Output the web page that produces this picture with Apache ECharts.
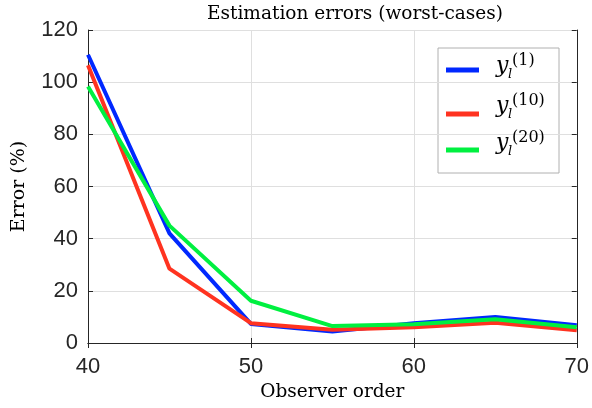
<!DOCTYPE html>
<html><head><meta charset="utf-8">
<script src="https://cdn.jsdelivr.net/npm/echarts@6/dist/echarts.min.js"></script>
<style>html,body{margin:0;padding:0;background:#fff}#c{width:592px;height:408px}</style>
</head><body><div id="c"></div>
<script>
const orders = [40, 45, 50, 55, 60, 65, 70];
const y1 = [110.5, 42, 7.3, 4.4, 7.6, 10.0, 6.8];
const y10 = [106.5, 28.5, 7.6, 5.1, 6.0, 7.8, 4.9];
const y20 = [98.3, 45, 16.2, 6.5, 7.2, 9.1, 6.0];
const seriesNames = ['y1', 'y10', 'y20'];
const supers = ['(1)', '(10)', '(20)'];
const colors = ['#0028ff', '#ff3320', '#00f040'];
const yTicks = [0, 20, 40, 60, 80, 100, 120];
const xTicks = [40, 50, 60, 70];

const chart = echarts.init(document.getElementById('c'), null, {renderer: 'canvas'});
const serifF = '"DejaVu Serif", "Liberation Serif", serif';
const sansF = '"Liberation Sans", Arial, sans-serif';
const axisCol = '#262626';

function legendFor(i, top) {
  return {
    data: [seriesNames[i]], left: 446, top: top, orient: 'vertical',
    itemWidth: 33, itemHeight: 5, icon: 'rect', formatter: () => '',
    textStyle: {fontSize: 1}, padding: 0, itemGap: 0, selectedMode: false
  };
}
function mathLabel(i, dy) {
  return [
    {type: 'text', x: 496, y: 55.5 + dy, z: 10, style: {text: 'y', font: 'italic 22px ' + serifF, fill: '#000'}},
    {type: 'text', x: 508, y: 68 + dy, z: 10, style: {text: 'l', font: 'italic 13px ' + serifF, fill: '#000'}},
    {type: 'text', x: 512, y: 52.5 + dy, z: 10, style: {text: supers[i], font: '16px ' + serifF, fill: '#000'}}
  ];
}
const option = {
  animation: false,
  backgroundColor: '#fff',
  title: {
    text: 'Estimation errors (worst-cases)', left: 350, top: 0, textAlign: 'center',
    textStyle: {fontFamily: serifF, fontWeight: 'normal', fontSize: 18.5, color: '#000'}
  },
  grid: {left: 88, right: 14, top: 30, bottom: 65},
  legend: [legendFor(0, 67.5), legendFor(1, 111.5), legendFor(2, 147.5)],
  graphic: [
    {type: 'rect', shape: {x: 438, y: 48, width: 121, height: 125},
     style: {fill: '#fff', stroke: '#b0b0b0', lineWidth: 1}, z: 0}
  ].concat(mathLabel(0, 0), mathLabel(1, 40), mathLabel(2, 77)),
  xAxis: [{
    type: 'value', min: 40, max: 70, interval: 10,
    name: 'Observer order', nameLocation: 'middle', nameGap: 40,
    nameTextStyle: {fontFamily: serifF, fontSize: 18.5, color: '#000'},
    axisLine: {show: true, lineStyle: {color: axisCol, width: 1}},
    axisTick: {show: true, inside: true, length: 5, lineStyle: {color: axisCol}},
    axisLabel: {fontFamily: sansF, fontSize: 22, color: '#262626', margin: 13,
      formatter: v => xTicks.includes(v) ? String(v) : ''},
    splitLine: {show: true, lineStyle: {color: '#dfdfdf', width: 1}}
  }, {
    type: 'value', min: 40, max: 70, interval: 10, position: 'top',
    axisLine: {show: true, lineStyle: {color: axisCol, width: 1}},
    axisTick: {show: true, inside: true, length: 5, lineStyle: {color: axisCol}},
    axisLabel: {show: false}, splitLine: {show: false}
  }],
  yAxis: [{
    type: 'value', min: 0, max: 120, interval: 20,
    name: 'Error (%)', nameLocation: 'middle', nameGap: 59, nameRotate: 90,
    nameTextStyle: {fontFamily: serifF, fontSize: 19, color: '#000'},
    axisLine: {show: true, lineStyle: {color: axisCol, width: 1}},
    axisTick: {show: true, inside: true, length: 5, lineStyle: {color: axisCol}},
    axisLabel: {fontFamily: sansF, fontSize: 22, color: '#262626', margin: 10,
      formatter: v => yTicks.includes(v) ? String(v) : ''},
    splitLine: {show: true, lineStyle: {color: '#dfdfdf', width: 1}}
  }, {
    type: 'value', min: 0, max: 120, interval: 20, position: 'right',
    axisLine: {show: true, lineStyle: {color: axisCol, width: 1}},
    axisTick: {show: true, inside: true, length: 5, lineStyle: {color: axisCol}},
    axisLabel: {show: false}, splitLine: {show: false}
  }],
  series: [y1, y10, y20].map((d, i) => ({
    name: seriesNames[i], type: 'line', showSymbol: false, symbol: 'none',
    data: orders.map((o, j) => [o, d[j]]),
    lineStyle: {color: colors[i], width: 4}, itemStyle: {color: colors[i]},
    z: 3 + i
  }))
};
chart.setOption(option);
</script></body></html>
